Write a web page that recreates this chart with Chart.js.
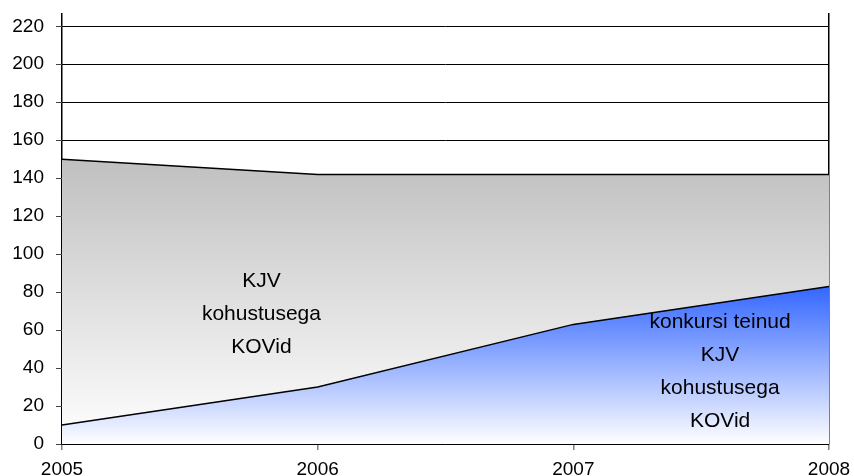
<!DOCTYPE html>
<html>
<head>
<meta charset="utf-8">
<script src="https://cdn.jsdelivr.net/npm/chart.js@4"></script>
<style>
  body { margin: 0; background: #fff; }
</style>
</head>
<body>
<canvas id="areaChart" width="854" height="476"></canvas>
<script>
// chart values
const years = ["2005", "2006", "2007", "2008"];
const kovTotal = [150, 142, 142, 142];
const kovKonkurss = [10, 30, 63, 83];
const yTicks = [0, 20, 40, 60, 80, 100, 120, 140, 160, 180, 200, 220];

const FONT = "'Liberation Sans', Arial, sans-serif";

// text labels inside the areas (x in category index, y in axis units)
const areaLabels = [
  { lines: ["KJV", "kohustusega", "KOVid"], x: 0.78, y: 86 },
  { lines: ["konkursi teinud", "KJV", "kohustusega", "KOVid"], x: 2.574, y: 64 },
];

function verticalGradient(context, topValue, topColor) {
  const chart = context.chart;
  const area = chart.chartArea;
  if (!area) return topColor;
  const y = chart.scales.y;
  const g = chart.ctx.createLinearGradient(0, y.getPixelForValue(topValue), 0, y.getPixelForValue(0));
  g.addColorStop(0, topColor);
  g.addColorStop(1, "#ffffff");
  return g;
}

const labelPlugin = {
  id: "areaLabels",
  afterDatasetsDraw(chart) {
    const ctx = chart.ctx;
    const sx = chart.scales.x;
    const sy = chart.scales.y;
    ctx.save();
    ctx.fillStyle = "#000";
    ctx.font = "21px " + FONT;
    ctx.textAlign = "center";
    ctx.textBaseline = "middle";
    areaLabels.forEach((lab) => {
      const px = sx.getPixelForValue(lab.x);
      const py = sy.getPixelForValue(lab.y);
      lab.lines.forEach((t, i) => ctx.fillText(t, px, py + i * 33));
    });
    ctx.restore();
  },
};

const ctx = document.getElementById("areaChart").getContext("2d");

new Chart(ctx, {
  type: "line",
  data: {
    labels: years,
    datasets: [
      {
        label: "konkursi teinud KJV kohustusega KOVid",
        data: kovKonkurss,
        borderColor: "#000",
        borderWidth: 1.5,
        pointRadius: 0,
        tension: 0,
        fill: "origin",
        backgroundColor: (c) => verticalGradient(c, Math.max(...kovKonkurss), "#3366ff"),
      },
      {
        label: "KJV kohustusega KOVid",
        data: kovTotal,
        borderColor: "#000",
        borderWidth: 1.5,
        pointRadius: 0,
        tension: 0,
        fill: "origin",
        backgroundColor: (c) => verticalGradient(c, Math.max(...kovTotal), "#c0c0c0"),
      },
    ],
  },
  options: {
    responsive: false,
    animation: false,
    layout: { autoPadding: false, padding: { top: 13, right: 25, left: 0, bottom: 0 } },
    plugins: {
      legend: { display: false },
      tooltip: { enabled: false },
      title: { display: false },
    },
    scales: {
      x: {
        z: 1,
        offset: false,
        border: { display: true, color: "#000", width: 1.5 },
        grid: {
          color: (c) => (c.index === 0 || c.index === years.length - 1 ? "#000" : "rgba(0,0,0,0)"),
          lineWidth: 1.5,
          tickColor: "#808080",
          tickLength: 6,
          drawTicks: true,
        },
        ticks: {
          color: "#000",
          font: { family: FONT, size: 19 },
          padding: 8,
          maxRotation: 0,
        },
        afterFit: (s) => {
          s.height = 32;
          s.paddingLeft = 0;
          s.paddingRight = 0;
        },
      },
      y: {
        min: 0,
        max: 227,
        border: { display: false },
        grid: {
          color: "#000",
          lineWidth: 1,
          tickColor: "#444",
          tickLength: 6,
        },
        ticks: {
          color: "#000",
          font: { family: FONT, size: 19 },
          padding: 12,
        },
        afterBuildTicks: (s) => { s.ticks = yTicks.map((v) => ({ value: v })); },
        afterFit: (s) => {
          s.width = 62;
          s.paddingTop = 0;
          s.paddingBottom = 0;
        },
      },
    },
  },
  plugins: [labelPlugin],
});
</script>
</body>
</html>
